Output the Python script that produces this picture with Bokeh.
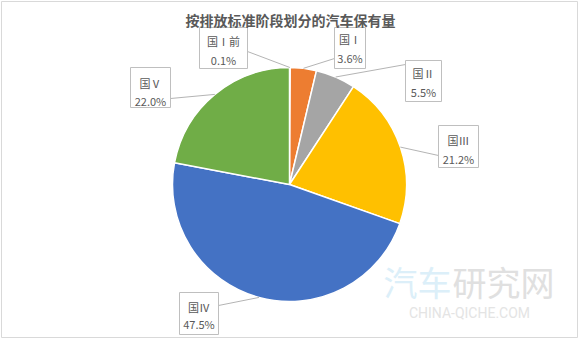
import math
from bokeh.plotting import figure
from bokeh.models import Range1d, ColumnDataSource
from bokeh.core.properties import value
from bokeh.embed import file_html
from bokeh.resources import INLINE

# ---- data ----
title = "按排放标准阶段划分的汽车保有量"
categories = ["国Ⅰ前", "国Ⅰ", "国Ⅱ", "国Ⅲ", "国Ⅳ", "国Ⅴ"]
shares = [0.1, 3.6, 5.5, 21.2, 47.5, 22.0]
colors = ["#5B9BD5", "#ED7D31", "#A5A5A5", "#FFC000", "#4472C4", "#70AD47"]

# ---- layout (pixel coordinates, origin top-left) ----
W, H = 580, 340
CX, CY, R = 289, 184, 117
box_l = [199, 334, 405, 438, 179, 130]
box_r = [247, 365, 441, 478, 218, 170]
box_t = [27, 27, 60, 125, 292, 67]
box_b = [68, 68, 101, 167, 334, 107]
name_y = [40, 38, 72, 139, 306, 82]
pct_y = [59, 57, 91, 158, 323, 100]
attach = [(247, 51), (334, 58), (405, 64), (438, 155), (218, 305), (170, 98)]

FONT = value("Noto Sans CJK SC")
LABEL = "#595959"


def Y(y):
    return H - y


p = figure(width=W, height=H, x_range=Range1d(0, W), y_range=Range1d(0, H),
           output_backend="svg", toolbar_location=None, min_border=0)
p.axis.visible = False
p.grid.visible = False
p.outline_line_color = None
p.background_fill_color = "white"
p.border_fill_color = "white"

# frame
p.quad(left=[1], right=[577], bottom=[Y(337)], top=[Y(1)],
       fill_color=None, line_color="#D9D9D9", line_width=1)

# pie
total = sum(shares)
starts, ends, mids = [], [], []
cum = 0.0
for v in shares:
    a0 = math.pi / 2 - 2 * math.pi * cum / total
    a1 = math.pi / 2 - 2 * math.pi * (cum + v) / total
    starts.append(a0)
    ends.append(a1)
    mids.append((a0 + a1) / 2)
    cum += v

src = ColumnDataSource(dict(start=starts, end=ends, color=colors))
p.wedge(x=CX, y=Y(CY), radius=R, start_angle="start", end_angle="end",
        direction="clock", fill_color="color", line_color="white",
        line_width=1.5, source=src)

# leader lines
xs, ys = [], []
for (ax, ay), m in zip(attach, mids):
    px = CX + R * math.cos(m)
    py = Y(CY) + R * math.sin(m)
    xs.append([ax, px])
    ys.append([Y(ay), py])
p.multi_line(xs=xs, ys=ys, line_color="#B4B4B4", line_width=1)

# label boxes
p.quad(left=box_l, right=box_r, top=[Y(t) for t in box_t],
       bottom=[Y(b) for b in box_b], fill_color="white",
       line_color="#BFBFBF", line_width=1)

cx_box = [(l + r) / 2 for l, r in zip(box_l, box_r)]
p.text(x=cx_box, y=[Y(v) for v in name_y], text=categories,
       text_font=FONT, text_font_size="11px", text_color=LABEL,
       text_align="center", text_baseline="middle")
p.text(x=cx_box, y=[Y(v) for v in pct_y], text=[f"{v:.1f}%" for v in shares],
       text_font=FONT, text_font_size="11px", text_color=LABEL,
       text_align="center", text_baseline="middle")

# title
p.text(x=[W / 2], y=[Y(19)], text=[title], text_font=FONT,
       text_font_size="14px", text_font_style="bold", text_color="#595959",
       text_align="center", text_baseline="middle")

# watermark
p.text(x=[383], y=[Y(281)], text=["汽车"], text_font=FONT,
       text_font_size="34px", text_color="#DCEFF9",
       text_align="left", text_baseline="middle")
p.text(x=[452], y=[Y(281)], text=["研究网"], text_font=FONT,
       text_font_size="34px", text_color="#E0E0E0",
       text_align="left", text_baseline="middle")
p.text(x=[469], y=[Y(312)], text=["CHINA-QICHE.COM"], text_font=value("Roboto"),
       text_font_size="14px", text_color="#E4E4E4",
       text_align="center", text_baseline="middle")

open("out.html", "w").write(file_html(p, INLINE))
